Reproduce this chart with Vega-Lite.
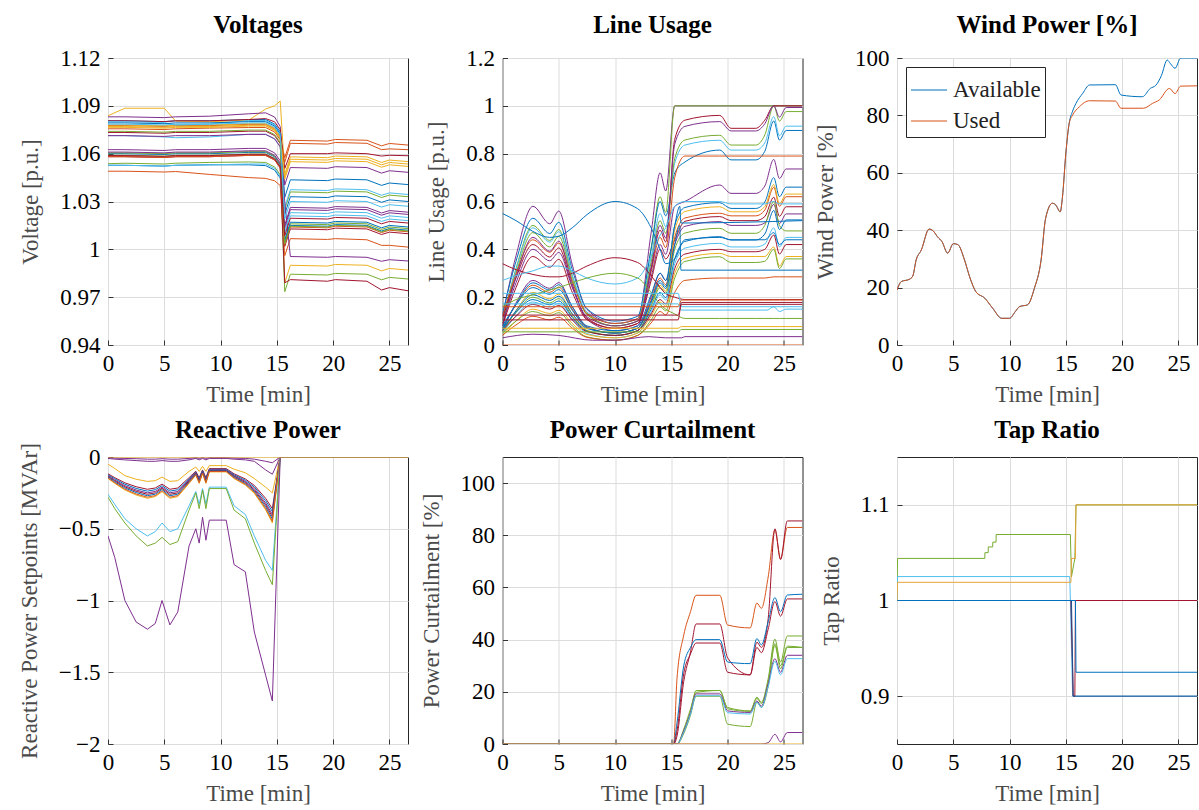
{
 "$schema": "https://vega.github.io/schema/vega-lite/v6.json",
 "autosize": {"type": "none"},
 "padding": {"left": 108, "top": 58, "right": 1091, "bottom": 752},
 "background": "white",
 "columns": 3,
 "bounds": "flush",
 "spacing": {"row": 112, "column": 94.5},
 "resolve": {"scale": {"x": "independent", "y": "independent", "color": "independent"}, "legend": {"color": "independent"}},
 "datasets": {
  "volt": [
   {"s":"v00","t":[0,1.5,5,6,9,12.5,14,14.8,15.3,15.7,16.2,19.5,20.2,23,24.3,25,26.65],"v":[1.0806,1.0806,1.0801,1.0806,1.0806,1.0814,1.0814,1.0786,1.0736,1.0326,1.0436,1.0431,1.0441,1.0436,1.0401,1.0416,1.0406]},
   {"s":"v01","t":[0,1.5,5,6,9,12.5,14,14.8,15.3,15.7,16.2,19.5,20.2,23,24.3,25,26.65],"v":[1.0776,1.0776,1.0771,1.0776,1.0776,1.0784,1.0784,1.0756,1.0706,1.0574,1.0684,1.0679,1.0689,1.0684,1.0649,1.0664,1.0654]},
   {"s":"v02","t":[0,1.5,5,6,9,12.5,14,14.8,15.3,15.7,16.2,19.5,20.2,23,24.3,25,26.65],"v":[1.0838,1.0885,1.0885,1.0805,1.0800,1.0810,1.0880,1.0900,1.0930,1.0470,1.0580,1.0575,1.0585,1.0580,1.0545,1.0560,1.0550]},
   {"s":"v03","t":[0,1.5,5,6,9,12.5,14,14.8,15.3,15.7,16.2,19.5,20.2,23,24.3,25,26.65],"v":[1.0831,1.0831,1.0826,1.0831,1.0835,1.0850,1.0856,1.0830,1.0770,1.0403,1.0513,1.0508,1.0518,1.0513,1.0478,1.0493,1.0483]},
   {"s":"v04","t":[0,1.5,5,6,9,12.5,14,14.8,15.3,15.7,16.2,19.5,20.2,23,24.3,25,26.65],"v":[1.0537,1.0540,1.0535,1.0540,1.0545,1.0548,1.0545,1.0517,1.0467,1.0250,1.0360,1.0355,1.0365,1.0360,1.0325,1.0340,1.0330]},
   {"s":"v05","t":[0,1.5,5,6,9,12.5,14,14.8,15.3,15.7,16.2,19.5,20.2,23,24.3,25,26.65],"v":[1.0713,1.0713,1.0705,1.0700,1.0705,1.0721,1.0721,1.0693,1.0643,1.0264,1.0374,1.0369,1.0379,1.0374,1.0339,1.0354,1.0344]},
   {"s":"v06","t":[0,1.5,5,6,9,12.5,14,14.8,15.3,15.7,16.2,19.5,20.2,23,24.3,25,26.65],"v":[1.0806,1.0806,1.0801,1.0806,1.0806,1.0814,1.0820,1.0800,1.0750,1.0507,1.0600,1.0600,1.0605,1.0600,1.0585,1.0590,1.0587]},
   {"s":"v07","t":[0,1.5,5,6,9,12.5,14,14.8,15.3,15.7,16.2,19.5,20.2,23,24.3,25,26.65],"v":[1.0527,1.0527,1.0522,1.0527,1.0530,1.0530,1.0525,1.0497,1.0447,1.0220,1.0330,1.0325,1.0335,1.0330,1.0295,1.0310,1.0300]},
   {"s":"v08","t":[0,1.5,5,6,9,12.5,14,14.8,15.3,15.7,16.2,19.5,20.2,23,24.3,25,26.65],"v":[1.0756,1.0756,1.0751,1.0756,1.0760,1.0764,1.0764,1.0736,1.0686,1.0545,1.0665,1.0660,1.0670,1.0665,1.0625,1.0630,1.0625]},
   {"s":"v09","t":[0,1.5,5,6,9,12.5,14,14.8,15.3,15.7,16.2,19.5,20.2,23,24.3,25,26.65],"v":[1.0780,1.0780,1.0775,1.0780,1.0780,1.0788,1.0788,1.0760,1.0710,1.0455,1.0565,1.0560,1.0570,1.0565,1.0530,1.0545,1.0535]},
   {"s":"v10","t":[0,1.5,5,6,9,12.5,14,14.8,15.3,15.7,16.2,19.5,20.2,23,24.3,25,26.65],"v":[1.0625,1.0625,1.0620,1.0625,1.0625,1.0633,1.0633,1.0605,1.0555,1.0153,1.0263,1.0258,1.0268,1.0263,1.0228,1.0243,1.0233]},
   {"s":"v11","t":[0,1.5,5,6,9,12.5,14,14.8,15.3,15.7,16.2,19.5,20.2,23,24.3,25,26.65],"v":[1.0590,1.0590,1.0585,1.0590,1.0590,1.0598,1.0598,1.0570,1.0520,1.0050,1.0160,1.0155,1.0165,1.0160,1.0125,1.0140,1.0130]},
   {"s":"v12","t":[0,1.5,5,6,9,12.5,14,14.8,15.3,15.7,16.2,19.5,20.2,23,24.3,25,26.65],"v":[1.0800,1.0800,1.0795,1.0780,1.0785,1.0808,1.0808,1.0780,1.0730,1.0100,1.0210,1.0205,1.0215,1.0210,1.0175,1.0190,1.0180]},
   {"s":"v13","t":[0,1.5,5,6,9,12.5,14,14.8,15.3,15.7,16.2,19.5,20.2,23,24.3,25,26.65],"v":[1.0733,1.0733,1.0728,1.0733,1.0733,1.0741,1.0741,1.0713,1.0663,1.0018,1.0128,1.0123,1.0133,1.0128,1.0093,1.0108,1.0098]},
   {"s":"v14","t":[0,1.5,5,6,9,12.5,14,14.8,15.3,15.7,16.2,19.5,20.2,23,24.3,25,26.65],"v":[1.0600,1.0600,1.0595,1.0600,1.0600,1.0608,1.0608,1.0580,1.0530,1.0040,1.0150,1.0145,1.0155,1.0150,1.0115,1.0130,1.0120]},
   {"s":"v15","t":[0,1.5,5,6,9,12.5,14,14.8,15.3,15.7,16.2,19.5,20.2,23,24.3,25,26.65],"v":[1.0490,1.0490,1.0485,1.0488,1.0470,1.0450,1.0445,1.0430,1.0400,0.9960,1.0067,1.0062,1.0067,1.0060,1.0025,1.0025,1.0014]},
   {"s":"v16","t":[0,1.5,5,6,9,12.5,14,14.8,15.3,15.7,16.2,19.5,20.2,23,24.3,25,26.65],"v":[1.0770,1.0770,1.0765,1.0770,1.0770,1.0778,1.0778,1.0750,1.0700,0.9790,0.9900,0.9895,0.9905,0.9900,0.9865,0.9880,0.9870]},
   {"s":"v17","t":[0,1.5,5,6,9,12.5,14,14.8,15.3,15.7,16.2,19.5,20.2,23,24.3,25,26.65],"v":[1.0713,1.0713,1.0708,1.0713,1.0713,1.0721,1.0721,1.0693,1.0643,1.0300,0.9955,0.9950,0.9955,0.9950,0.9925,0.9935,0.9927]},
   {"s":"v18","t":[0,1.5,5,6,9,12.5,14,14.8,15.3,15.7,16.2,19.5,20.2,23,24.3,25,26.65],"v":[1.0605,1.0605,1.0600,1.0605,1.0605,1.0613,1.0613,1.0585,1.0535,0.9734,0.9844,0.9839,0.9849,0.9844,0.9809,0.9824,0.9814]},
   {"s":"v19","t":[0,1.5,5,6,9,12.5,14,14.8,15.3,15.7,16.2,19.5,20.2,23,24.3,25,26.65],"v":[1.0527,1.0527,1.0522,1.0527,1.0530,1.0535,1.0535,1.0507,1.0457,1.0120,1.0230,1.0225,1.0235,1.0230,1.0195,1.0210,1.0200]},
   {"s":"v20","t":[0,1.5,5,6,9,12.5,14,14.8,15.3,15.7,16.2,19.5,20.2,23,24.3,25,26.65],"v":[1.0581,1.0581,1.0576,1.0581,1.0581,1.0589,1.0589,1.0561,1.0511,0.9790,0.9810,0.9800,0.9810,0.9800,0.9745,0.9760,0.9740]},
   {"s":"v21","t":[0,1.5,5,6,9,12.5,14,14.8,15.3,15.7,16.2,19.5,20.2,23,24.3,25,26.65],"v":[1.0793,1.0793,1.0788,1.0793,1.0793,1.0801,1.0801,1.0773,1.0723,1.0060,1.0170,1.0165,1.0175,1.0170,1.0135,1.0150,1.0140]},
   {"s":"v22","t":[0,1.5,5,6,9,12.5,14,14.8,15.3,15.7,16.2,19.5,20.2,23,24.3,25,26.65],"v":[1.0581,1.0581,1.0576,1.0581,1.0581,1.0589,1.0589,1.0561,1.0511,1.0030,1.0140,1.0135,1.0145,1.0140,1.0105,1.0120,1.0110]},
   {"s":"v23","t":[0,1.5,5,6,9,12.5,14,14.8,15.3,15.7,16.2,19.5,20.2,23,24.3,25,26.65],"v":[1.0765,1.0765,1.0760,1.0765,1.0765,1.0773,1.0773,1.0745,1.0695,1.0440,1.0550,1.0545,1.0555,1.0550,1.0515,1.0530,1.0520]},
   {"s":"v24","t":[0,1.5,5,6,9,12.5,14,14.8,15.3,15.7,16.2,19.5,20.2,23,24.3,25,26.65],"v":[1.0610,1.0610,1.0605,1.0610,1.0610,1.0618,1.0618,1.0590,1.0540,1.0139,1.0249,1.0244,1.0254,1.0249,1.0214,1.0229,1.0219]},
   {"s":"v25","t":[0,1.5,5,6,9,12.5,14,14.8,15.3,15.7,16.2,19.5,20.2,23,24.3,25,26.65],"v":[1.0740,1.0740,1.0735,1.0740,1.0740,1.0748,1.0748,1.0720,1.0670,1.0035,1.0145,1.0140,1.0150,1.0145,1.0110,1.0125,1.0115]},
   {"s":"v26","t":[0,1.5,5,6,9,12.5,14,14.8,15.3,15.7,16.2,19.5,20.2,23,24.3,25,26.65],"v":[1.0785,1.0785,1.0780,1.0785,1.0785,1.0793,1.0793,1.0765,1.0715,1.0190,1.0300,1.0295,1.0305,1.0300,1.0265,1.0280,1.0270]},
   {"s":"v27","t":[0,1.5,5,6,9,12.5,14,14.8,15.3,15.7,16.2,19.5,20.2,23,24.3,25,26.65],"v":[1.0588,1.0588,1.0583,1.0588,1.0588,1.0596,1.0596,1.0568,1.0518,1.0085,1.0195,1.0190,1.0200,1.0195,1.0160,1.0175,1.0165]}
  ],
  "usage": [
   {"s":"u01","t":[0,1.2,2.7,4.2,5,6.2,7.5,10,12,13.2,14,14.5,15.3,16.2,19.3,20.3,22.5,23.3,24.1,24.6,25.2,26.65],"v":[0.12,0.373,0.58,0.507,0.56,0.335,0.149,0.09,0.11,0.468,0.72,0.644,1,1,1,1,1,1,1,1,1,1]},
   {"s":"u02","t":[0,1.2,2.7,4.2,5,6.2,7.5,10,12,13.2,14,14.5,15.3,16.2,19.3,20.3,22.5,23.3,24.1,24.6,25.2,26.65],"v":[0.10,0.32,0.50,0.437,0.483,0.29,0.13,0.08,0.10,0.404,0.62,0.555,1,1,1,1,1,1,1,1,1,1]},
   {"s":"u03","t":[0,1.2,2.7,4.2,5,6.2,7.5,10,12,13.2,14,14.5,15.3,16.2,19.3,20.3,22.5,23.3,24.1,24.6,25.2,26.65],"v":[0.13,0.35,0.53,0.466,0.513,0.315,0.152,0.10,0.12,0.40,0.60,0.54,0.72,0.765,0.815,0.774,0.774,0.81,0.937,0.857,0.897,0.897]},
   {"s":"u04","t":[0,1.2,2.7,4.2,5,6.2,7.5,10,12,13.2,14,14.5,15.3,16.2,19.3,20.3,22.5,23.3,24.1,24.6,25.2,26.65],"v":[0.10,0.315,0.49,0.43,0.474,0.29,0.138,0.09,0.11,0.366,0.55,0.495,0.76,0.836,0.856,0.815,0.815,0.845,0.955,0.875,0.915,0.915]},
   {"s":"u05","t":[0,1.2,2.7,4.2,5,6.2,7.5,10,12,13.2,14,14.5,15.3,16.2,19.3,20.3,22.5,23.3,24.1,24.6,25.2,26.65],"v":[0.09,0.30,0.47,0.41,0.454,0.275,0.127,0.08,0.10,0.344,0.52,0.467,0.78,0.857,0.877,0.836,0.836,0.878,1,0.936,0.976,0.976]},
   {"s":"u06","t":[0,1.2,2.7,4.2,5,6.2,7.5,10,12,13.2,14,14.5,15.3,16.2,19.3,20.3,22.5,23.3,24.1,24.6,25.2,26.65],"v":[0.12,0.296,0.44,0.388,0.426,0.265,0.132,0.09,0.11,0.306,0.45,0.407,0.70,0.79,0.79,0.79,0.79,0.79,0.79,0.79,0.79,0.79]},
   {"s":"u07","t":[0,1.2,2.7,4.2,5,6.2,7.5,10,12,13.2,14,14.5,15.3,16.2,19.3,20.3,22.5,23.3,24.1,24.6,25.2,26.65],"v":[0.11,0.28,0.42,0.368,0.406,0.245,0.112,0.07,0.09,0.316,0.48,0.431,0.86,0.94,0.96,0.906,0.906,0.94,1,1,1,1]},
   {"s":"u08","t":[0,1.2,2.7,4.2,5,6.2,7.5,10,12,13.2,14,14.5,15.3,16.2,19.3,20.3,22.5,23.3,24.1,24.6,25.2,26.65],"v":[0.08,0.284,0.45,0.392,0.434,0.255,0.107,0.06,0.08,0.324,0.50,0.447,0.84,0.914,0.934,0.895,0.895,0.925,1,0.953,0.993,0.993]},
   {"s":"u09","t":[0,1.2,2.7,4.2,5,6.2,7.5,10,12,13.2,14,14.5,15.3,16.2,19.3,20.3,22.5,23.3,24.1,24.6,25.2,26.65],"v":[0.09,0.26,0.40,0.352,0.387,0.24,0.118,0.08,0.10,0.284,0.42,0.379,0.58,0.60,0.669,0.634,0.634,0.665,0.776,0.696,0.736,0.736]},
   {"s":"u10","t":[0,1.2,2.7,4.2,5,6.2,7.5,10,12,13.2,14,14.5,15.3,16.2,19.3,20.3,22.5,23.3,24.1,24.6,25.2,26.65],"v":[0.08,0.24,0.37,0.325,0.358,0.22,0.106,0.07,0.09,0.268,0.40,0.36,0.44,0.517,0.537,0.52,0.52,0.537,0.618,0.538,0.578,0.578]},
   {"s":"u11","t":[0,1.2,2.7,4.2,5,6.2,7.5,10,12,13.2,14,14.5,15.3,16.2,19.3,20.3,22.5,23.3,24.1,24.6,25.2,26.65],"v":[0.06,0.176,0.27,0.237,0.261,0.16,0.076,0.05,0.07,0.20,0.30,0.27,0.42,0.496,0.516,0.50,0.50,0.51,0.588,0.508,0.548,0.548]},
   {"s":"u12","t":[0,1.2,2.7,4.2,5,6.2,7.5,10,12,13.2,14,14.5,15.3,16.2,19.3,20.3,22.5,23.3,24.1,24.6,25.2,26.65],"v":[0.07,0.169,0.25,0.22,0.242,0.15,0.074,0.05,0.07,0.188,0.28,0.252,0.45,0.531,0.551,0.54,0.54,0.564,0.66,0.58,0.62,0.62]},
   {"s":"u13","t":[0,1.2,2.7,4.2,5,6.2,7.5,10,12,13.2,14,14.5,15.3,16.2,19.3,20.3,22.5,23.3,24.1,24.6,25.2,26.65],"v":[0.08,0.168,0.24,0.212,0.232,0.145,0.073,0.05,0.07,0.182,0.27,0.244,0.50,0.575,0.595,0.571,0.571,0.598,0.70,0.62,0.66,0.66]},
   {"s":"u14","t":[0,1.2,2.7,4.2,5,6.2,7.5,10,12,13.2,14,14.5,15.3,16.2,19.3,20.3,22.5,23.3,24.1,24.6,25.2,26.65],"v":[0.05,0.144,0.22,0.193,0.213,0.13,0.062,0.04,0.06,0.166,0.25,0.225,0.48,0.558,0.578,0.557,0.557,0.579,0.671,0.591,0.631,0.631]},
   {"s":"u15","t":[0,1.2,2.7,4.2,5,6.2,7.5,10,12,13.2,14,14.5,15.3,16.2,19.3,20.3,22.5,23.3,24.1,24.6,25.2,26.65],"v":[0.06,0.137,0.20,0.176,0.194,0.12,0.059,0.04,0.06,0.16,0.24,0.216,0.40,0.468,0.488,0.467,0.467,0.50,0.60,0.50,0.477,0.477]},
   {"s":"u16","t":[0,1.2,2.7,4.2,5,6.2,7.5,10,12,13.2,14,14.5,15.3,16.2,19.3,20.3,22.5,23.3,24.1,24.6,25.2,26.65],"v":[0.07,0.136,0.19,0.168,0.184,0.115,0.058,0.04,0.06,0.148,0.22,0.198,0.36,0.433,0.453,0.439,0.439,0.464,0.563,0.483,0.523,0.523]},
   {"s":"u17","t":[0,1.2,2.7,4.2,5,6.2,7.5,10,12,13.2,14,14.5,15.3,16.2,19.3,20.3,22.5,23.3,24.1,24.6,25.2,26.65],"v":[0.05,0.122,0.18,0.158,0.174,0.105,0.048,0.03,0.05,0.138,0.21,0.188,0.34,0.405,0.425,0.41,0.41,0.422,0.49,0.41,0.45,0.45]},
   {"s":"u18","t":[0,1.2,2.7,4.2,5,6.2,7.5,10,12,13.2,14,14.5,15.3,16.2,19.3,20.3,22.5,23.3,24.1,24.6,25.2,26.65],"v":[0.06,0.12,0.17,0.15,0.165,0.105,0.056,0.04,0.06,0.13,0.19,0.172,0.32,0.38,0.40,0.39,0.39,0.40,0.46,0.38,0.42,0.42]},
   {"s":"u19","t":[0,1.2,2.7,4.2,5,6.2,7.5,10,12,13.2,14,14.5,15.3,16.2,19.3,20.3,22.5,23.3,24.1,24.6,25.2,26.65],"v":[0.04,0.10,0.15,0.132,0.145,0.09,0.044,0.03,0.05,0.12,0.18,0.162,0.30,0.363,0.383,0.37,0.37,0.37,0.41,0.33,0.37,0.37]},
   {"s":"u20","t":[0,1.2,2.7,4.2,5,6.2,7.5,10,12,13.2,14,14.5,15.3,16.2,19.3,20.3,22.5,23.3,24.1,24.6,25.2,26.65],"v":[0.05,0.10,0.14,0.122,0.135,0.08,0.034,0.02,0.04,0.104,0.16,0.143,0.28,0.349,0.369,0.345,0.345,0.35,0.40,0.32,0.36,0.36]},
   {"s":"u21","t":[0,1.2,2.7,4.2,5,6.2,7.5,10,12,13.2,14,14.5,15.3,16.2,19.3,20.3,22.5,23.3,24.1,24.6,25.2,26.65],"v":[0.04,0.084,0.12,0.105,0.116,0.07,0.032,0.02,0.04,0.092,0.14,0.126,0.22,0.27,0.28,0.28,0.28,0.28,0.285,0.285,0.285,0.285]},
   {"s":"u22","t":[0,1.2,2.7,4.2,5,6.2,7.5,10,12,13.2,14,14.5,15.3,15.75,15.85,26.65],"v":[0.06,0.143,0.21,0.186,0.204,0.13,0.069,0.05,0.07,0.176,0.26,0.236,0.42,0.50,0.313,0.313]},
   {"s":"u23","t":[0,1.2,2.7,4.2,5,6.2,7.5,10,12,13.2,14,14.5,15.3,15.75,15.85,26.65],"v":[0.07,0.17,0.26,0.23,0.252,0.16,0.08,0.06,0.08,0.21,0.30,0.27,0.50,0.58,0.51,0.52]},
   {"s":"u24","t":[0,1.2,2.7,4.2,5,6.2,7.5,10,12,13.2,14,14.5,15.3,16.2,19.3,20.3,22.5,23.3,24.1,24.6,25.2,26.65],"v":[0.55,0.52,0.475,0.45,0.455,0.49,0.545,0.60,0.57,0.49,0.40,0.34,0.36,0.44,0.45,0.44,0.44,0.44,0.47,0.42,0.44,0.44]},
   {"s":"u25","t":[0,1.2,2.7,4.2,5,6.2,7.5,10,12,13.2,14,14.5,15.3,16.2,19.3,20.3,22.5,23.3,24.1,24.6,25.2,26.65],"v":[0.34,0.315,0.295,0.285,0.285,0.30,0.33,0.365,0.345,0.29,0.24,0.215,0.20,0.19,0.19,0.19,0.19,0.19,0.19,0.19,0.19,0.19]},
   {"s":"u26","t":[0,1.2,2.7,4.2,5,6.2,7.5,10,12,13.2,14,14.5,15.3,16.2,19.3,20.3,22.5,23.3,24.1,24.6,25.2,26.65],"v":[0.27,0.29,0.31,0.33,0.33,0.31,0.28,0.255,0.28,0.37,0.46,0.49,0.58,0.60,0.60,0.59,0.59,0.59,0.60,0.59,0.59,0.59]},
   {"s":"u27","t":[0,1.2,2.7,4.2,5,6.2,7.5,10,12,13.2,14,14.5,15.3,16.2,19.3,20.3,22.5,23.3,24.1,24.6,25.2,26.65],"v":[0.16,0.19,0.21,0.23,0.24,0.26,0.28,0.30,0.28,0.22,0.17,0.15,0.13,0.111,0.111,0.111,0.111,0.111,0.111,0.111,0.111,0.111]},
   {"s":"u28","t":[0,15.6,15.9,26.65],"v":[0.216,0.216,0.16,0.16]},
   {"s":"u29","t":[0,15.6,15.9,23.5,24.1,24.6,25.2,26.65],"v":[0.172,0.172,0.146,0.146,0.16,0.14,0.15,0.15]},
   {"s":"u30","t":[0,15.6,15.9,26.65],"v":[0.16,0.16,0.188,0.188]},
   {"s":"u31","t":[0,15.6,15.9,26.65],"v":[0.105,0.105,0.178,0.178]},
   {"s":"u32","t":[0,15.6,15.9,26.65],"v":[0.125,0.125,0.17,0.17]},
   {"s":"u33","t":[0,2.7,5,8,10,13,14.5,15.6,15.9,16.2,26.65],"v":[0.03,0.045,0.04,0.02,0.02,0.035,0.03,0.03,0.03,0.035,0.035]},
   {"s":"u34","t":[0,15.6,15.9,26.65],"v":[0.07,0.07,0.077,0.077]},
   {"s":"u35","t":[0,15.6,15.9,26.65],"v":[0.055,0.055,0.065,0.065]},
   {"s":"u36","t":[0,26.65],"v":[0,0]}
  ],
  "wind": [
   {"s":"Available","t":[0,0.38,1.1,1.4,1.7,2.16,2.85,3.2,3.6,4.0,4.5,5.0,5.4,6.0,6.45,7.0,7.8,8.5,9.3,10.0,10.5,10.9,11.6,12.2,12.8,13.2,13.8,14.1,14.5,14.7,15.0,15.3,15.6,15.9,16.5,17.1,19.4,19.9,21.8,22.5,23.0,23.5,24.0,24.3,24.7,25.2,26.65],"v":[19.2,22.1,22.9,24,29.6,33.1,40.4,39.8,37.7,36,32,35.3,35,29.6,23.8,18.6,16.3,12.8,9.3,9.3,11.6,13.4,14,19.7,29.6,44.1,49.4,48.8,46.4,51.6,66.8,77.3,81.5,84.2,87.7,90.6,90.7,87.1,86.5,89.4,90.5,94,99.3,98,96.4,100,100]},
   {"s":"Used","t":[0,0.38,1.1,1.4,1.7,2.16,2.85,3.2,3.6,4.0,4.5,5.0,5.4,6.0,6.45,7.0,7.8,8.5,9.3,10.0,10.5,10.9,11.6,12.2,12.8,13.2,13.8,14.1,14.5,14.7,15.0,15.3,15.6,16.2,17.1,19.4,19.9,21.9,22.7,23.3,24.2,24.7,25.2,26.65],"v":[19.2,22.1,22.9,24,29.6,33.1,40.4,39.8,37.7,36,32,35.3,35,29.6,23.8,18.6,16.3,12.8,9.3,9.3,11.6,13.4,14,19.7,29.6,44.1,49.4,48.8,46.4,51.6,66.8,77.3,80.1,83,85.1,85,82.5,82.5,84.2,85.4,89.4,87.6,90.2,90.3]}
  ],
  "react": [
   {"s":"r01","t":[0,0.6,1.5,2.5,3.5,4.2,4.8,5.5,6.2,7.2,7.8,8.1,8.4,8.7,9.0,10.5,11.2,12.2,13.0,14.0,14.6,15.3,20,26.65],"v":[-0.01,-0.015,-0.02,-0.025,-0.03,-0.03,-0.025,-0.03,-0.03,-0.02,-0.01,-0.02,-0.01,-0.02,-0.01,-0.01,-0.015,-0.02,-0.03,-0.09,-0.12,0,0,0]},
   {"s":"r02","t":[0,0.6,1.5,2.5,3.5,4.2,4.8,5.5,6.2,7.2,7.8,8.1,8.4,8.7,9.0,10.5,11.2,12.2,13.0,14.0,14.6,15.3,20,26.65],"v":[-0.005,-0.008,-0.01,-0.012,-0.015,-0.015,-0.012,-0.015,-0.015,-0.01,-0.005,-0.01,-0.005,-0.01,-0.005,-0.005,-0.008,-0.01,-0.015,-0.03,-0.04,0,0,0]},
   {"s":"r03","t":[0,0.6,1.5,2.5,3.5,4.2,4.8,5.5,6.2,7.2,7.8,8.1,8.4,8.7,9.0,10.5,11.2,12.2,13.0,14.0,14.6,15.3,20,26.65],"v":[-0.05,-0.08,-0.13,-0.155,-0.17,-0.165,-0.14,-0.17,-0.165,-0.10,-0.07,-0.10,-0.065,-0.10,-0.06,-0.06,-0.085,-0.11,-0.15,-0.21,-0.25,0,0,0]},
   {"s":"r04","t":[0,0.6,1.5,2.5,3.5,4.2,4.8,5.5,6.2,7.2,7.8,8.1,8.4,8.7,9.0,10.5,11.2,12.2,13.0,14.0,14.6,15.3,20,26.65],"v":[-0.117,-0.144,-0.18,-0.207,-0.225,-0.216,-0.189,-0.225,-0.216,-0.144,-0.099,-0.144,-0.09,-0.144,-0.081,-0.081,-0.117,-0.153,-0.198,-0.288,-0.36,0,0,0]},
   {"s":"r05","t":[0,0.6,1.5,2.5,3.5,4.2,4.8,5.5,6.2,7.2,7.8,8.1,8.4,8.7,9.0,10.5,11.2,12.2,13.0,14.0,14.6,15.3,20,26.65],"v":[-0.124,-0.152,-0.19,-0.219,-0.238,-0.228,-0.2,-0.238,-0.228,-0.152,-0.105,-0.152,-0.095,-0.152,-0.086,-0.086,-0.124,-0.162,-0.209,-0.304,-0.38,0,0,0]},
   {"s":"r06","t":[0,0.6,1.5,2.5,3.5,4.2,4.8,5.5,6.2,7.2,7.8,8.1,8.4,8.7,9.0,10.5,11.2,12.2,13.0,14.0,14.6,15.3,20,26.65],"v":[-0.13,-0.16,-0.20,-0.23,-0.25,-0.24,-0.21,-0.25,-0.24,-0.16,-0.11,-0.16,-0.10,-0.16,-0.09,-0.09,-0.13,-0.17,-0.22,-0.32,-0.40,0,0,0]},
   {"s":"r07","t":[0,0.6,1.5,2.5,3.5,4.2,4.8,5.5,6.2,7.2,7.8,8.1,8.4,8.7,9.0,10.5,11.2,12.2,13.0,14.0,14.6,15.3,20,26.65],"v":[-0.135,-0.166,-0.208,-0.239,-0.26,-0.25,-0.218,-0.26,-0.25,-0.166,-0.114,-0.166,-0.104,-0.166,-0.094,-0.094,-0.135,-0.177,-0.229,-0.333,-0.416,0,0,0]},
   {"s":"r08","t":[0,0.6,1.5,2.5,3.5,4.2,4.8,5.5,6.2,7.2,7.8,8.1,8.4,8.7,9.0,10.5,11.2,12.2,13.0,14.0,14.6,15.3,20,26.65],"v":[-0.14,-0.173,-0.216,-0.248,-0.27,-0.259,-0.227,-0.27,-0.259,-0.173,-0.119,-0.173,-0.108,-0.173,-0.097,-0.097,-0.14,-0.184,-0.238,-0.346,-0.432,0,0,0]},
   {"s":"r09","t":[0,0.6,1.5,2.5,3.5,4.2,4.8,5.5,6.2,7.2,7.8,8.1,8.4,8.7,9.0,10.5,11.2,12.2,13.0,14.0,14.6,15.3,20,26.65],"v":[-0.15,-0.184,-0.23,-0.265,-0.288,-0.276,-0.242,-0.288,-0.276,-0.184,-0.127,-0.184,-0.115,-0.184,-0.104,-0.104,-0.15,-0.196,-0.253,-0.368,-0.46,0,0,0]},
   {"s":"r10","t":[0,0.6,1.5,2.5,3.5,4.2,4.8,5.5,6.2,7.2,7.8,8.1,8.4,8.7,9.0,10.5,11.2,12.2,13.0,14.0,14.6,15.3,20,26.65],"v":[-0.146,-0.179,-0.224,-0.258,-0.28,-0.269,-0.235,-0.28,-0.269,-0.179,-0.123,-0.179,-0.112,-0.179,-0.101,-0.101,-0.146,-0.19,-0.246,-0.358,-0.448,0,0,0]},
   {"s":"r11","t":[0,0.6,1.5,2.5,3.5,4.2,4.8,5.5,6.2,7.2,7.8,8.1,8.4,8.7,9.0,10.5,11.2,12.2,13.0,14.0,14.6,15.3,20,26.65],"v":[-0.26,-0.33,-0.43,-0.50,-0.55,-0.52,-0.46,-0.52,-0.50,-0.34,-0.24,-0.33,-0.22,-0.33,-0.21,-0.21,-0.34,-0.40,-0.55,-0.72,-0.79,0,0,0]},
   {"s":"r12","t":[0,0.6,1.5,2.5,3.5,4.2,4.8,5.5,6.2,7.2,7.8,8.1,8.4,8.7,9.0,10.5,11.2,12.2,13.0,14.0,14.6,15.3,20,26.65],"v":[-0.28,-0.36,-0.46,-0.55,-0.62,-0.60,-0.56,-0.61,-0.59,-0.37,-0.25,-0.36,-0.23,-0.36,-0.22,-0.22,-0.37,-0.43,-0.60,-0.79,-0.89,0,0,0]},
   {"s":"r13","t":[0,0.6,1.5,2.5,3.5,4.2,4.8,5.5,6.2,7.2,7.8,8.1,8.4,8.7,9.0,10.5,11.2,12.2,13.0,14.0,14.6,15.3,20,26.65],"v":[-0.55,-0.70,-1.00,-1.15,-1.20,-1.16,-1.00,-1.17,-1.08,-0.62,-0.50,-0.60,-0.42,-0.58,-0.44,-0.44,-0.75,-0.80,-1.22,-1.52,-1.70,0,0,0]},
   {"s":"r14","t":[0,26.65],"v":[0,0]}
  ],
  "curt": [
   {"s":"c01","t":[0,15.2,15.5,16.1,16.7,17.2,19.3,20.0,22.0,22.6,23.0,23.6,24.2,24.7,25.3,26.65],"v":[0,0,25,41.7,50.7,57,57,45.6,44.5,54,52,64,82,71,83,83]},
   {"s":"c02","t":[0,15.2,15.5,16.1,16.7,17.2,19.3,20.0,22.0,22.6,23.0,23.6,24.2,24.7,25.3,26.65],"v":[0,0,3,24,35.3,46,46,33,26.5,39,37,48,82.5,70.7,85.5,85.5]},
   {"s":"c03","t":[0,15.2,15.5,16.1,16.7,17.2,19.3,20.0,22.0,22.6,23.0,23.6,24.2,24.7,25.3,26.65],"v":[0,0,8,30,37,40,40,31.4,30.8,40.4,38,46.8,56.1,50.7,57.1,57.4]},
   {"s":"c04","t":[0,15.2,15.5,16.1,16.7,17.2,19.3,20.0,22.0,22.6,23.0,23.6,24.2,24.7,25.3,26.65],"v":[0,0,5,27,34.5,38.7,38.7,27.5,26.5,37,35,44,54.6,49,55.6,55.6]},
   {"s":"c05","t":[0,15.2,15.5,16.1,16.7,17.2,19.3,20.0,22.0,22.6,23.0,23.6,24.2,24.7,25.3,26.65],"v":[0,0,0,5.7,13.4,19.8,20.5,14,12.7,17.9,16,25,40.2,31.4,41.4,41.4]},
   {"s":"c06","t":[0,15.2,15.5,16.1,16.7,17.2,19.3,20.0,22.0,22.6,23.0,23.6,24.2,24.7,25.3,26.65],"v":[0,0,0,5,12.5,20.5,20.5,13.5,12.5,17.5,15.5,24,38.5,30,37.5,37]},
   {"s":"c07","t":[0,15.2,15.5,16.1,16.7,17.2,19.3,20.0,22.0,22.6,23.0,23.6,24.2,24.7,25.3,26.65],"v":[0,0,0,4,11,18.3,18.3,7.6,6.7,16,14,22,37.8,28.8,37,37]},
   {"s":"c08","t":[0,15.2,15.5,16.1,16.7,17.2,19.3,20.0,22.0,22.6,23.0,23.6,24.2,24.7,25.3,26.65],"v":[0,0,0,5,12,19.2,19.2,12.7,12.1,16.5,14.5,23,32.7,27.5,34,34]},
   {"s":"c09","t":[0,15.2,15.5,16.1,16.7,17.2,19.3,20.0,22.0,22.6,23.0,23.6,24.2,24.7,25.3,26.65],"v":[0,0,0,4.5,11.5,18.5,18.5,12,11.5,16,14,22,31.7,26.5,32.7,32.7]},
   {"s":"c10","t":[0,15.2,15.5,16.1,16.7,17.2,19.3,20.0,22.0,22.6,23.0,23.6,24.2,24.7,25.3,26.65],"v":[0,0,0,0,0,0,0,0,0,0,0,0.5,3.7,0.8,4.4,4.4]},
   {"s":"c11","t":[0,26.65],"v":[0,0]}
  ],
  "tap": [
   {"s":"p1","t":[0,0.05,7.8,7.81,8.1,8.11,8.5,8.51,8.8,8.81,15.4,15.5,15.8,15.9,26.65],"v":[1.0,1.044,1.044,1.05,1.05,1.056,1.056,1.061,1.061,1.069,1.069,1.025,1.044,1.1,1.1]},
   {"s":"p2","t":[0,0.05,15.35,15.6,26.65],"v":[1.0,1.025,1.025,0.9,0.9]},
   {"s":"p3","t":[0,15.45,15.65,15.8,15.85,26.65],"v":[1.0,1.0,0.9,0.9,1.0,1.0]},
   {"s":"p4","t":[0,15.5,15.65,26.65],"v":[1.0,1.0,0.9,0.9]},
   {"s":"p5","t":[0,15.85,15.9,26.65],"v":[1.0,1.0,0.925,0.925]},
   {"s":"p6","t":[0,0.05,15.45,15.5,15.85,15.9,26.65],"v":[1.0,1.019,1.019,1.044,1.044,1.1,1.1]}
  ]
 },
 "concat": [
  {
   "width": 300, "height": 287,
   "title": {"text": "Voltages", "offset": 9},
   "data": {"name": "volt"},
   "transform": [{"flatten": ["t", "v"]}],
   "mark": {"type": "line", "strokeWidth": 1, "clip": true, "interpolate": "linear"},
   "encoding": {
    "x": {"field": "t", "type": "quantitative", "scale": {"domain": [0, 26.65], "nice": false, "zero": false}, "axis": {"values": [0, 5, 10, 15, 20, 25], "title": "Time [min]"}},
    "y": {"field": "v", "type": "quantitative", "scale": {"domain": [0.94, 1.12], "nice": false, "zero": false}, "axis": {"values": [0.94, 0.97, 1, 1.03, 1.06, 1.09, 1.12], "format": "~g", "title": "Voltage [p.u.]"}},
    "color": {"field": "s", "type": "nominal", "scale": {"range": ["#0072BD", "#D95319", "#EDB120", "#7E2F8E", "#77AC30", "#4DBEEE", "#A2142F"]}, "legend": null}
   }
  },
  {
   "width": 300, "height": 287,
   "title": {"text": "Line Usage", "offset": 9},
   "data": {"name": "usage"},
   "transform": [{"flatten": ["t", "v"]}],
   "mark": {"type": "line", "strokeWidth": 1, "clip": true, "interpolate": "monotone"},
   "encoding": {
    "x": {"field": "t", "type": "quantitative", "scale": {"domain": [0, 26.65], "nice": false, "zero": false}, "axis": {"values": [0, 5, 10, 15, 20, 25], "title": "Time [min]"}},
    "y": {"field": "v", "type": "quantitative", "scale": {"domain": [0, 1.2], "nice": false}, "axis": {"values": [0, 0.2, 0.4, 0.6, 0.8, 1, 1.2], "format": "~g", "title": "Line Usage [p.u.]"}},
    "color": {"field": "s", "type": "nominal", "scale": {
      "domain": ["u01","u02","u03","u04","u05","u06","u07","u08","u09","u10","u11","u12","u13","u14","u15","u16","u17","u18","u19","u20","u21","u22","u23","u24","u25","u26","u27","u28","u29","u30","u31","u32","u33","u34","u35","u36"],
      "range": ["#7E2F8E","#77AC30","#0072BD","#4DBEEE","#77AC30","#D95319","#A2142F","#7E2F8E","#7E2F8E","#A2142F","#7E2F8E","#D95319","#0072BD","#EDB120","#77AC30","#0072BD","#4DBEEE","#A2142F","#EDB120","#77AC30","#D95319","#0072BD","#0072BD","#0072BD","#A2142F","#4DBEEE","#77AC30","#4DBEEE","#4DBEEE","#D95319","#A2142F","#A2142F","#7E2F8E","#EDB120","#77AC30","#D95319"]}, "legend": null}
   }
  },
  {
   "width": 300, "height": 287,
   "title": {"text": "Wind Power [%]", "offset": 9},
   "data": {"name": "wind"},
   "transform": [{"flatten": ["t", "v"]}],
   "mark": {"type": "line", "strokeWidth": 1, "clip": true, "interpolate": "monotone"},
   "encoding": {
    "x": {"field": "t", "type": "quantitative", "scale": {"domain": [0, 26.65], "nice": false, "zero": false}, "axis": {"values": [0, 5, 10, 15, 20, 25], "title": "Time [min]"}},
    "y": {"field": "v", "type": "quantitative", "scale": {"domain": [0, 100], "nice": false}, "axis": {"values": [0, 20, 40, 60, 80, 100], "title": "Wind Power [%]"}},
    "color": {"field": "s", "type": "nominal", "scale": {"domain": ["Available", "Used"], "range": ["#0072BD", "#D95319"]},
     "legend": {"orient": "top-left", "title": null, "offset": 9, "padding": 4, "strokeColor": "#262626", "fillColor": "white", "symbolType": "stroke", "symbolSize": 1300, "symbolStrokeWidth": 1.2, "labelFontSize": 23, "labelFont": "Liberation Serif", "labelColor": "#222222", "rowPadding": 0, "labelOffset": 5}}
   }
  },
  {
   "width": 300, "height": 287,
   "title": {"text": "Reactive Power", "offset": 0},
   "data": {"name": "react"},
   "transform": [{"flatten": ["t", "v"]}],
   "mark": {"type": "line", "strokeWidth": 1, "clip": true, "interpolate": "linear"},
   "encoding": {
    "x": {"field": "t", "type": "quantitative", "scale": {"domain": [0, 26.65], "nice": false, "zero": false}, "axis": {"values": [0, 5, 10, 15, 20, 25], "title": "Time [min]"}},
    "y": {"field": "v", "type": "quantitative", "scale": {"domain": [-2, 0], "nice": false}, "axis": {"values": [-2, -1.5, -1, -0.5, 0], "format": "~g", "title": "Reactive Power Setpoints [MVAr]"}},
    "color": {"field": "s", "type": "nominal", "scale": {
      "domain": ["r01","r02","r03","r04","r05","r06","r07","r08","r09","r10","r11","r12","r13","r14"],
      "range": ["#7E2F8E","#7E2F8E","#EDB120","#A2142F","#0072BD","#7E2F8E","#A2142F","#0072BD","#EDB120","#D95319","#4DBEEE","#77AC30","#7E2F8E","#EDB120"]}, "legend": null}
   }
  },
  {
   "width": 300, "height": 287,
   "title": {"text": "Power Curtailment", "offset": 14},
   "data": {"name": "curt"},
   "transform": [{"flatten": ["t", "v"]}],
   "mark": {"type": "line", "strokeWidth": 1, "clip": true, "interpolate": "monotone"},
   "encoding": {
    "x": {"field": "t", "type": "quantitative", "scale": {"domain": [0, 26.65], "nice": false, "zero": false}, "axis": {"values": [0, 5, 10, 15, 20, 25], "title": "Time [min]"}},
    "y": {"field": "v", "type": "quantitative", "scale": {"domain": [0, 110], "nice": false}, "axis": {"values": [0, 20, 40, 60, 80, 100], "title": "Power Curtailment [%]"}},
    "color": {"field": "s", "type": "nominal", "scale": {
      "domain": ["c01","c02","c03","c04","c05","c06","c07","c08","c09","c10","c11"],
      "range": ["#D95319","#A2142F","#0072BD","#A2142F","#77AC30","#77AC30","#77AC30","#7E2F8E","#4DBEEE","#7E2F8E","#EDB120"]}, "legend": null}
   }
  },
  {
   "width": 300, "height": 287,
   "title": {"text": "Tap Ratio", "offset": 14},
   "data": {"name": "tap"},
   "transform": [{"flatten": ["t", "v"]}],
   "mark": {"type": "line", "strokeWidth": 1, "clip": true, "interpolate": "linear"},
   "encoding": {
    "x": {"field": "t", "type": "quantitative", "scale": {"domain": [0, 26.65], "nice": false, "zero": false}, "axis": {"values": [0, 5, 10, 15, 20, 25], "title": "Time [min]"}},
    "y": {"field": "v", "type": "quantitative", "scale": {"domain": [0.85, 1.15], "nice": false, "zero": false}, "axis": {"values": [0.9, 1, 1.1], "format": "~g", "title": "Tap Ratio"}},
    "color": {"field": "s", "type": "nominal", "scale": {
      "domain": ["p1","p2","p3","p4","p5","p6"],
      "range": ["#77AC30","#4DBEEE","#A2142F","#1C4F8F","#0072BD","#E8A33A"]}, "legend": null}
   }
  }
 ],
 "config": {
  "font": "Liberation Serif",
  "view": {"stroke": "#262626", "strokeWidth": 1},
  "axis": {"domain": false, "ticks": true, "tickSize": -5, "tickColor": "#333333", "tickWidth": 1, "grid": true, "gridColor": "#dcdcdc", "gridWidth": 1, "labelFont": "Liberation Serif", "labelFontSize": 23, "labelColor": "#000000", "labelPadding": 12, "labelFlush": false, "labelOverlap": false, "titleFont": "Liberation Serif", "titleFontSize": 23, "titleFontWeight": "normal", "titleColor": "#4a4a4a", "titlePadding": 8},
  "axisY": {"labelPadding": 13, "titlePadding": 17},
  "title": {"font": "Liberation Serif", "fontSize": 25, "fontWeight": "bold", "color": "#000000", "frame": "group", "anchor": "middle", "baseline": "alphabetic"}
 }
}
